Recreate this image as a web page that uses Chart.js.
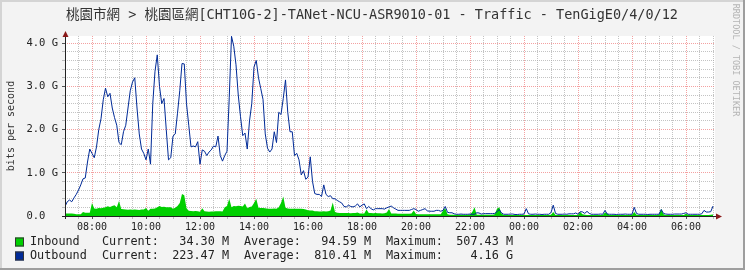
<!DOCTYPE html>
<html lang="zh-Hant">
<head>
<meta charset="UTF-8">
<title>Traffic - TenGigE0/4/0/12</title>
<script src="https://cdn.jsdelivr.net/npm/chart.js"></script>
<style>
  html, body { margin: 0; padding: 0; background: #f3f3f3; }
  canvas { display: block; }
</style>
</head>
<body>
<canvas id="trafficChart" width="745" height="270"></canvas>
<script>
  // 5-minute samples, first one at 07:00
  const startHour = 7;
  const stepMinutes = 5;
  const endHour = 7 + 650 / 27;

  // Inbound in M bits/s
  const inbound = [
    60, 55, 55, 55, 50, 40, 40, 40, 90, 75, 75, 78,
    300, 175, 165, 185, 180, 190, 200, 225, 210, 230, 250, 200,
    350, 160, 155, 150, 145, 150, 145, 150, 145, 140, 150, 150,
    185, 120, 170, 170, 175, 200, 230, 210, 215, 205, 200, 200,
    170, 190, 230, 300, 507, 480, 180, 120, 115, 110, 115, 110,
    100, 180, 110, 105, 100, 105, 105, 110, 110, 110, 105, 200,
    230, 400, 200, 230, 225, 240, 230, 220, 290, 180, 210, 220,
    300, 400, 190, 185, 185, 180, 170, 170, 170, 175, 170, 200,
    300, 450, 190, 175, 170, 170, 165, 165, 170, 165, 160, 150,
    135, 130, 125, 110, 108, 105, 105, 108, 105, 110, 130, 310,
    90, 75, 70, 70, 68, 70, 68, 65, 70, 68, 80, 60,
    55, 60, 150, 70, 68, 65, 70, 65, 65, 60, 62, 80,
    160, 60, 55, 55, 50, 50, 50, 50, 50, 50, 60, 125,
    45, 40, 40, 40, 40, 38, 38, 38, 38, 40, 40, 40,
    120, 180, 40, 30, 30, 30, 30, 30, 30, 30, 30, 30,
    35, 90, 200, 30, 30, 30, 30, 30, 30, 30, 30, 40,
    170, 200, 60, 25, 25, 25, 25, 25, 25, 25, 25, 25,
    25, 25, 25, 25, 25, 25, 25, 25, 25, 25, 25, 25,
    30, 90, 25, 25, 25, 25, 25, 25, 25, 25, 25, 25,
    25, 90, 40, 30, 25, 25, 25, 25, 25, 25, 25, 25,
    80, 60, 25, 25, 25, 25, 25, 25, 25, 25, 25, 25,
    25, 90, 30, 25, 25, 25, 25, 25, 25, 25, 25, 25,
    25, 170, 40, 25, 25, 25, 25, 25, 25, 25, 25, 25,
    50, 30, 25, 25, 25, 25, 25, 25, 25, 25, 25, 30, 34
  ];

  // Outbound in G bits/s
  const outbound = [
    0.22, 0.33, 0.37, 0.33, 0.42, 0.50, 0.60, 0.72, 0.86, 0.88, 1.25, 1.55,
    1.45, 1.35, 1.60, 2.00, 2.25, 2.69, 2.96, 2.76, 2.84, 2.50, 2.28, 2.10,
    1.70, 1.65, 1.95, 2.10, 2.50, 2.90, 3.10, 3.20, 2.50, 1.90, 1.55, 1.45,
    1.30, 1.55, 1.20, 2.60, 3.35, 3.73, 3.00, 2.60, 2.72, 2.00, 1.30, 1.35,
    1.85, 1.90, 2.38, 2.90, 3.53, 3.52, 2.60, 2.10, 1.60, 1.62, 1.60, 1.72,
    1.20, 1.53, 1.50, 1.40, 1.48, 1.53, 1.62, 1.60, 1.85, 1.40, 1.27, 1.40,
    1.50, 2.75, 4.16, 3.93, 3.50, 2.80, 2.30, 1.86, 1.92, 1.55, 2.20, 2.60,
    3.45, 3.60, 3.20, 2.95, 2.70, 1.90, 1.57, 1.48, 1.55, 1.95, 1.70, 2.40,
    2.35, 2.72, 3.15, 2.40, 1.95, 1.95, 1.40, 1.45, 1.30, 0.95, 1.05, 0.85,
    0.90, 1.37, 0.80, 0.52, 0.50, 0.50, 0.45, 0.72, 0.50, 0.45, 0.47, 0.40,
    0.40, 0.36, 0.33, 0.30, 0.22, 0.21, 0.25, 0.22, 0.21, 0.23, 0.28, 0.21,
    0.25, 0.28, 0.17, 0.22, 0.17, 0.14, 0.17, 0.17, 0.17, 0.17, 0.16, 0.19,
    0.21, 0.23, 0.19, 0.16, 0.13, 0.13, 0.13, 0.13, 0.13, 0.13, 0.15, 0.17,
    0.15, 0.11, 0.13, 0.15, 0.17, 0.12, 0.11, 0.11, 0.11, 0.13, 0.13, 0.11,
    0.13, 0.22, 0.085, 0.075, 0.075, 0.05, 0.04, 0.04, 0.045, 0.04, 0.04, 0.04,
    0.045, 0.04, 0.04, 0.075, 0.07, 0.045, 0.055, 0.055, 0.055, 0.055, 0.055, 0.06,
    0.10, 0.15, 0.07, 0.04, 0.04, 0.04, 0.045, 0.045, 0.035, 0.035, 0.04, 0.04,
    0.045, 0.17, 0.05, 0.04, 0.04, 0.045, 0.04, 0.04, 0.035, 0.04, 0.04, 0.04,
    0.08, 0.25, 0.06, 0.04, 0.04, 0.04, 0.045, 0.04, 0.05, 0.05, 0.05, 0.07,
    0.04, 0.10, 0.095, 0.06, 0.108, 0.06, 0.04, 0.04, 0.04, 0.04, 0.045, 0.04,
    0.13, 0.045, 0.04, 0.04, 0.04, 0.035, 0.04, 0.04, 0.04, 0.045, 0.04, 0.04,
    0.04, 0.20, 0.06, 0.04, 0.04, 0.04, 0.04, 0.035, 0.04, 0.04, 0.04, 0.04,
    0.04, 0.15, 0.06, 0.045, 0.04, 0.04, 0.04, 0.045, 0.045, 0.045, 0.045, 0.06,
    0.075, 0.04, 0.04, 0.04, 0.04, 0.04, 0.04, 0.05, 0.13, 0.092, 0.092, 0.10, 0.23
  ];

  const titleText = '桃園市網 > 桃園區網[CHT10G-2]-TANet-NCU-ASR9010-01 - Traffic - TenGigE0/4/0/12';
  const seriesNames = ['Inbound', 'Outbound'];
  const seriesColors = ['#00cf00', '#002a97'];
  const currentVals = ['34.30 M', '223.47 M'];
  const averageVals = ['94.59 M', '810.41 M'];
  const maximumVals = ['507.43 M', '4.16 G'];

  const mono = "'DejaVu Sans Mono', 'Noto Sans CJK TC', monospace";
  const majorGrid = 'rgba(240, 130, 130, 0.75)';
  const minorGrid = 'rgba(170, 170, 170, 0.7)';

  const toPoints = (arr, scale) => arr.map((v, i) => ({ x: startHour + i * stepMinutes / 60, y: v * scale }));
  const isWhole = v => Math.abs(v - Math.round(v)) < 1e-6;

  // RRDtool-like frame, title, axes and legend
  const rrdFrame = {
    id: 'rrdFrame',
    beforeDraw(chart) {
      const c = chart.ctx, a = chart.chartArea;
      c.save();
      c.fillStyle = '#f3f3f3';
      c.fillRect(0, 0, 745, 270);
      c.fillStyle = '#d4d4d4';
      c.fillRect(0, 0, 745, 2);
      c.fillRect(0, 0, 2, 270);
      c.fillStyle = '#9e9e9e';
      c.fillRect(0, 268, 745, 2);
      c.fillRect(743, 0, 2, 270);
      c.fillStyle = '#ffffff';
      c.fillRect(a.left, a.top, a.right - a.left, a.bottom - a.top);
      c.restore();
    },
    afterDraw(chart) {
      const c = chart.ctx, a = chart.chartArea;
      c.save();
      // axes
      c.strokeStyle = '#222';
      c.lineWidth = 1;
      c.beginPath();
      c.moveTo(a.left - 3, a.bottom + 0.5);
      c.lineTo(a.right + 2, a.bottom + 0.5);
      c.moveTo(a.left + 0.5, a.bottom + 3);
      c.lineTo(a.left + 0.5, a.top - 1);
      c.stroke();
      c.fillStyle = '#8b1a1a';
      c.beginPath();
      c.moveTo(a.left + 0.5, a.top - 5);
      c.lineTo(a.left - 2.5, a.top + 1);
      c.lineTo(a.left + 3.5, a.top + 1);
      c.closePath();
      c.fill();
      c.beginPath();
      c.moveTo(a.right + 7, a.bottom + 0.5);
      c.lineTo(a.right + 1, a.bottom - 2.5);
      c.lineTo(a.right + 1, a.bottom + 3.5);
      c.closePath();
      c.fill();

      // title
      c.fillStyle = '#333';
      c.font = '13.5px ' + mono;
      c.textAlign = 'center';
      c.textBaseline = 'middle';
      c.fillText(titleText, 372, 15);

      // vertical label
      c.font = '10px ' + mono;
      c.save();
      c.translate(11, 126);
      c.rotate(-Math.PI / 2);
      c.fillText('bits per second', 0, 0);
      c.restore();

      // watermark
      c.fillStyle = '#b4b4b4';
      c.font = '8.5px ' + mono;
      c.save();
      c.translate(735, 60);
      c.rotate(Math.PI / 2);
      c.fillText('RRDTOOL / TOBI OETIKER', 0, 0);
      c.restore();

      // legend
      c.font = '11.8px ' + mono;
      const rowY = [242, 256];
      seriesNames.forEach((name, i) => {
        const y = rowY[i];
        c.fillStyle = seriesColors[i];
        c.fillRect(15, y - 4.5, 9, 9);
        c.strokeStyle = '#333';
        c.strokeRect(15.5, y - 4, 8, 8);
        c.fillStyle = '#222';
        c.textAlign = 'left';
        c.fillText(name, 30, y);
        c.fillText('Current:', 102, y);
        c.fillText('Average:', 244, y);
        c.fillText('Maximum:', 386, y);
        c.textAlign = 'right';
        c.fillText(currentVals[i], 229, y);
        c.fillText(averageVals[i], 371, y);
        c.fillText(maximumVals[i], 513, y);
      });
      c.restore();
    }
  };

  const hourTicks = [];
  for (let h = startHour; h <= 31; h += 0.5) hourTicks.push(h);
  const gbTicks = [];
  for (let g = 0; g <= 20; g++) gbTicks.push(g / 5);

  new Chart(document.getElementById('trafficChart').getContext('2d'), {
    type: 'line',
    data: {
      datasets: [
        {
          label: 'Outbound',
          data: toPoints(outbound, 1),
          borderColor: '#002a97',
          borderWidth: 1,
          pointRadius: 0,
          tension: 0,
          fill: false,
          order: 0
        },
        {
          label: 'Inbound',
          data: toPoints(inbound, 0.001),
          borderColor: '#00cf00',
          backgroundColor: '#00cf00',
          borderWidth: 0,
          pointRadius: 0,
          tension: 0,
          fill: 'origin',
          order: 1
        }
      ]
    },
    options: {
      responsive: false,
      animation: false,
      devicePixelRatio: 1,
      layout: { padding: { top: 36, right: 30, bottom: 0, left: 0 } },
      plugins: { legend: { display: false }, tooltip: { enabled: false } },
      scales: {
        x: {
          type: 'linear',
          min: startHour,
          max: endHour,
          afterFit: s => { s.height = 54; },
          afterBuildTicks: s => { s.ticks = hourTicks.map(v => ({ value: v })); },
          border: { display: false, dash: [1, 1] },
          grid: {
            color: ctx => ctx.tick && ctx.tick.value === startHour ? 'rgba(0,0,0,0)' :
              (ctx.tick && ctx.tick.value % 2 === 0 ? majorGrid : minorGrid),
            tickColor: ctx => ctx.tick && ctx.tick.value % 2 === 0 ? '#555' : '#bbb',
            tickLength: 3,
            borderDash: [1, 1]
          },
          ticks: {
            autoSkip: false,
            maxRotation: 0,
            minRotation: 0,
            padding: 2,
            color: '#222',
            font: { family: mono, size: 10 },
            callback: v => v % 2 === 0 ? String(v % 24).padStart(2, '0') + ':00' : ''
          }
        },
        y: {
          min: 0,
          max: 180 / 43.2,
          afterFit: s => { s.width = 65; },
          afterBuildTicks: s => { s.ticks = gbTicks.map(v => ({ value: v })); },
          border: { display: false, dash: [1, 1] },
          grid: {
            color: ctx => ctx.tick && ctx.tick.value === 0 ? 'rgba(0,0,0,0)' :
              (ctx.tick && isWhole(ctx.tick.value) ? majorGrid : minorGrid),
            tickColor: ctx => ctx.tick && isWhole(ctx.tick.value) ? '#555' : '#bbb',
            tickLength: 3,
            borderDash: [1, 1]
          },
          ticks: {
            autoSkip: false,
            padding: 4,
            color: '#222',
            font: { family: mono, size: 10.5 },
            callback: v => {
              if (!isWhole(v)) return '';
              return v === 0 ? '0.0  ' : v.toFixed(1) + ' G';
            }
          }
        }
      }
    },
    plugins: [rrdFrame]
  });
</script>
</body>
</html>
